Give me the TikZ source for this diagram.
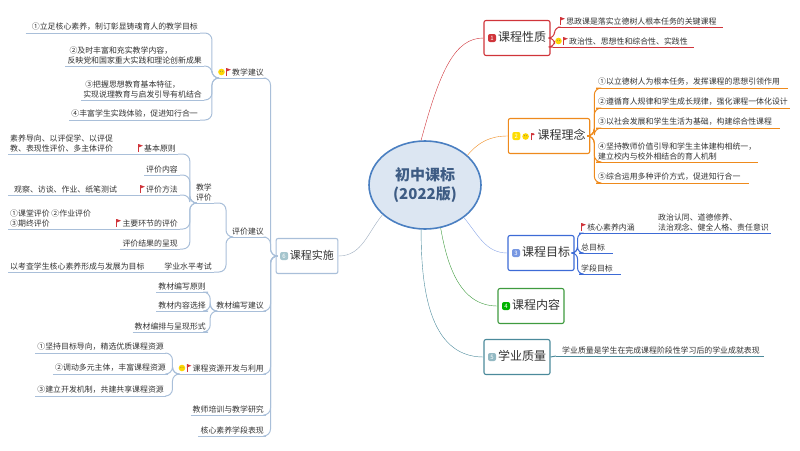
\documentclass[tikz,border=0pt]{standalone}
\usepackage{fontspec}
\setmainfont{Noto Sans CJK SC}
\usetikzlibrary{shapes.geometric}
\definecolor{cred}{HTML}{D0343A}
\definecolor{cora}{HTML}{EE8A1C}
\definecolor{cblu}{HTML}{3D6BD6}
\definecolor{cgrn}{HTML}{3F9B3F}
\definecolor{cteal}{HTML}{4B8A9B}
\definecolor{cleft}{HTML}{A9BFD9}
\definecolor{ctxt}{HTML}{333333}
\definecolor{rootfill}{HTML}{DCE6F2}
\definecolor{rootline}{HTML}{4A7FC1}
\definecolor{roottext}{HTML}{3E5C84}
\newcommand\myflag{\tikz[baseline=0pt]{\draw[cred,line width=0.6pt](0,-0.5pt)--(0,7pt);\fill[cred](0,7pt)--(4.5pt,5.3pt)--(0,3.5pt)--cycle;}\,}
\newcommand\smiley{\tikz[baseline=0pt]{\fill[yellow!75!orange](3.3pt,3pt) circle(3.3pt);\fill[black!60](2.2pt,3.8pt) circle(0.45pt) (4.4pt,3.8pt) circle(0.45pt);}\,}
\newcommand\numsq[2]{\tikz[baseline=0pt]{\fill[#1](0,-0.5pt) rectangle (8pt,7.5pt);\node[text=white,font=\fontsize{6}{6}\selectfont,inner sep=0pt] at (4pt,3.5pt){#2};}\,}
\tikzset{
  lt/.style={font=\fontsize{7.9}{10}\selectfont,text=ctxt,inner xsep=2pt,inner ysep=2pt,anchor=south east,align=right},
  rt/.style={lt,anchor=south west,align=left},
  ul/.style={append after command={(\tikzlastnode.south west) edge[draw=#1,line width=1pt] (\tikzlastnode.south east)}},
  lc/.style={draw=cleft,line width=1pt,rounded corners=7pt},
  mainbox/.style={draw=#1,line width=1.1pt,rounded corners=2pt,fill=white,font=\fontsize{12}{14}\selectfont,text=ctxt,inner sep=4pt,minimum height=27pt},
}
\begin{document}
\begin{tikzpicture}[x=1pt,y=-1pt]
\useasboundingbox (0,0) rectangle (800,450);
% root
\node[ellipse,draw=rootline,line width=1.6pt,fill=rootfill,minimum width=112pt,minimum height=88pt,font=\bfseries\fontsize{15}{19}\selectfont,text=roottext,align=center] (root) at (425,185) {初中课标\\(2022版)};
% main nodes
\node[mainbox=cred] (xz) at (517,38) {\numsq{cred}{1}课程性质};
\node[mainbox=cora] (ln) at (549,136) {\numsq{yellow!80!orange}{2}\smiley\myflag 课程理念};
\node[mainbox=cblu] (mb) at (541,253) {\numsq{cblu!70}{3}课程目标};
\node[mainbox=cgrn] (nr) at (531,306) {\numsq{green!70!black}{4}课程内容};
\node[mainbox=cteal] (zl) at (517,357) {\numsq{cteal!60}{5}学业质量};
\node[mainbox=cleft,font=\fontsize{11}{13}\selectfont] (ss) at (307,256) {\numsq{cteal!50}{6}课程实施};
% root connectors
\draw[cred,thin] (root.95) .. controls (440,70) and (455,38) .. (xz.west);
\draw[cora,thin] (root.35) to[out=50,in=180] (ln.west);
\draw[cblu!60,thin] (root.-40) to[out=-50,in=180] (mb.west);
\draw[cgrn,thin] (root.-70) to[out=-80,in=180] (nr.west);
\draw[cteal,thin] (root.-95) to[out=-90,in=180] (zl.west);
\draw[cleft!70!gray,thin] (root.215) to[out=230,in=0] (ss.east);
% 课程性质
\node[rt,ul=cred] (x1) at (558,27) {\myflag 思政课是落实立德树人根本任务的关键课程\hspace{4pt}};
\node[rt,ul=cred] (x2) at (553,47) {\smiley\myflag 政治性、思想性和综合性、实践性\hspace{4pt}};
\foreach \c in {x1,x2} \draw[cred,line width=1pt,rounded corners=6pt] (xz.east) -- ++(4,0) |- (\c.south west);
% 课程理念
\node[rt,ul=cora] (l1) at (596,88) {①以立德树人为根本任务，发挥课程的思想引领作用\hspace{6pt}};
\node[rt,ul=cora] (l2) at (596,108) {②遵循育人规律和学生成长规律，强化课程一体化设计};
\node[rt,ul=cora] (l3) at (596,128) {③以社会发展和学生生活为基础，构建综合性课程\hspace{6pt}};
\node[rt,ul=cora] (l4) at (596,162) {④坚持教师价值引导和学生主体建构相统一，\\建立校内与校外相结合的育人机制\hspace{40pt}};
\node[rt,ul=cora] (l5) at (596,183) {⑤综合运用多种评价方式，促进知行合一\hspace{6pt}};
\foreach \c in {l1,l2,l3,l4,l5} \draw[cora,line width=1pt,rounded corners=7pt] (ln.east) -- ++(4,0) |- (\c.south west);
% 课程目标
\node[rt,ul=cblu] (m1) at (579,233) {\myflag 核心素养内涵};
\node[rt,ul=cblu] (m1e) at (656,233) {政治认同、道德修养、\\法治观念、健全人格、责任意识\hspace{4pt}};
\draw[cblu,line width=1pt] (m1.south east) -- (m1e.south west);
\node[rt,ul=cblu] (m2) at (579,253) {总目标\hspace{6pt}};
\node[rt,ul=cblu] (m3) at (579,274) {学段目标\hspace{6pt}};
\foreach \c in {m1,m2,m3} \draw[cblu,line width=1pt,rounded corners=6pt] (mb.east) -- ++(3,0) |- (\c.south west);
% 学业质量
\node[rt,ul=cteal] (q1) at (556,356) {\hspace{4pt}学业质量是学生在完成课程阶段性学习后的学业成就表现\hspace{2pt}};
\draw[cteal,line width=1pt] (zl.east) -- (q1.south west);
% 课程实施 children
\node[lt,ul=cleft] (jx) at (266,78) {\smiley\myflag 教学建议};
\node[lt,ul=cleft] (pj) at (266,237) {评价建议};
\node[lt,ul=cleft] (jc) at (266,311) {教材编写建议};
\node[lt,ul=cleft] (zy) at (266,374) {\smiley\myflag 课程资源开发与利用};
\node[lt,ul=cleft] (px) at (266,415) {教师培训与教学研究};
\node[lt,ul=cleft] (hx) at (266,436) {核心素养学段表现};
\foreach \c in {jx,pj,jc,zy,px,hx} \draw[lc] (ss.west) -- ++(-5,0) |- (\c.south east);
% 教学建议
\node[lt,ul=cleft] (j1) at (200,33) {\hspace{4pt}①立足核心素养，制订彰显铸魂育人的教学目标};
\node[lt,ul=cleft,align=left] (j2) at (204,66) {\hspace{2pt}②及时丰富和充实教学内容，\\反映党和国家重大实践和理论创新成果};
\node[lt,ul=cleft,align=left] (j3) at (204,100) {\hspace{2pt}③把握思想教育基本特征，\\实现说理教育与启发引导有机结合};
\node[lt,ul=cleft] (j4) at (200,120) {④丰富学生实践体验，促进知行合一};
\foreach \c in {j1,j2,j3,j4} \draw[lc] (jx.south west) -- ++(-4,0) |- (\c.south east);
% 评价建议
\node[lt,ul=cleft] (jp) at (214,203) {教学\\评价};
\node[lt,ul=cleft] (xs) at (214,272) {学业水平考试};
\node[rt,ul=cleft] (xse) at (8,272) {以考查学生核心素养形成与发展为目标};
\draw[cleft,line width=1pt] (xse.south east) -- (xs.south west);
\foreach \c in {jp,xs} \draw[lc] (pj.south west) -- ++(-4,0) |- (\c.south east);
% 教学评价
\node[lt,ul=cleft] (p1) at (178,154) {\myflag 基本原则};
\node[rt,ul=cleft] (p1e) at (8,154) {素养导向、以评促学、以评促\\教、表现性评价、多主体评价};
\node[lt,ul=cleft] (p2) at (180,175) {评价内容};
\node[lt,ul=cleft] (p3) at (180,195) {\myflag 评价方法};
\node[rt,ul=cleft] (p3e) at (8,195) {\hspace{4pt}观察、访谈、作业、纸笔测试};
\node[lt,ul=cleft] (p4) at (180,229) {\myflag 主要环节的评价};
\node[rt,ul=cleft] (p4e) at (8,229) {①课堂评价 ②作业评价\\③期终评价};
\node[lt,ul=cleft] (p5) at (180,249) {评价结果的呈现};
\draw[cleft,line width=1pt] (p1e.south east) -- (p1.south west);
\draw[cleft,line width=1pt] (p3e.south east) -- (p3.south west);
\draw[cleft,line width=1pt] (p4e.south east) -- (p4.south west);
\foreach \c in {p1,p2,p3,p4,p5} \draw[lc] (jp.south west) -- ++(-4,0) |- (\c.south east);
% 教材编写建议
\node[lt,ul=cleft] (c1) at (208,292) {教材编写原则};
\node[lt,ul=cleft] (c2) at (208,311) {教材内容选择};
\node[lt,ul=cleft] (c3) at (208,332) {教材编排与呈现形式};
\foreach \c in {c1,c2,c3} \draw[lc] (jc.south west) -- ++(-4,0) |- (\c.south east);
% 课程资源
\node[lt,ul=cleft] (r1) at (166,353) {①坚持目标导向，精选优质课程资源};
\node[lt,ul=cleft] (r2) at (168,374) {②调动多元主体，丰富课程资源};
\node[lt,ul=cleft] (r3) at (166,396) {③建立开发机制，共建共享课程资源};
\foreach \c in {r1,r2,r3} \draw[lc] (zy.south west) -- ++(-4,0) |- (\c.south east);
\end{tikzpicture}
\end{document}
